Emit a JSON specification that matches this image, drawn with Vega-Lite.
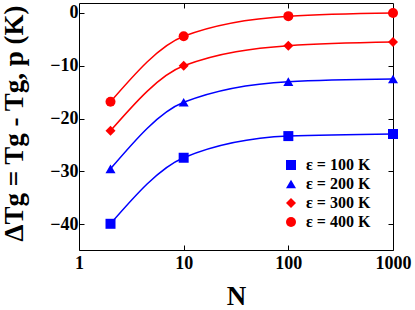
{
  "$schema": "https://vega.github.io/schema/vega-lite/v6.json",
  "width": 314,
  "height": 247,
  "autosize": {"type": "none"},
  "padding": {"left": 79, "top": 3, "right": 22, "bottom": 60},
  "background": "white",
  "config": {
    "view": {"stroke": "black", "strokeWidth": 1},
    "font": "Liberation Serif",
    "axis": {
      "labelFont": "Liberation Serif", "labelFontWeight": "bold", "labelFontSize": 18, "labelColor": "black",
      "titleFont": "Liberation Serif", "titleFontWeight": "bold", "titleFontSize": 27, "titleColor": "black",
      "grid": false, "domain": false, "tickColor": "black", "tickSize": -5, "tickWidth": 1, "labelFlush": false
    },
    "legend": {
      "labelFont": "Liberation Serif", "labelFontWeight": "bold", "labelFontSize": 16, "labelColor": "black"
    }
  },
  "data": {
    "values": [
      {"N": 2, "dT": -39.9, "eps": "ε = 100 K"},
      {"N": 10, "dT": -27.4, "eps": "ε = 100 K"},
      {"N": 100, "dT": -23.3, "eps": "ε = 100 K"},
      {"N": 1000, "dT": -22.9, "eps": "ε = 100 K"},
      {"N": 2, "dT": -29.5, "eps": "ε = 200 K"},
      {"N": 10, "dT": -16.9, "eps": "ε = 200 K"},
      {"N": 100, "dT": -13.0, "eps": "ε = 200 K"},
      {"N": 1000, "dT": -12.5, "eps": "ε = 200 K"},
      {"N": 2, "dT": -22.3, "eps": "ε = 300 K"},
      {"N": 10, "dT": -10.0, "eps": "ε = 300 K"},
      {"N": 100, "dT": -6.2, "eps": "ε = 300 K"},
      {"N": 1000, "dT": -5.5, "eps": "ε = 300 K"},
      {"N": 2, "dT": -16.8, "eps": "ε = 400 K"},
      {"N": 10, "dT": -4.4, "eps": "ε = 400 K"},
      {"N": 100, "dT": -0.6, "eps": "ε = 400 K"},
      {"N": 1000, "dT": 0.0, "eps": "ε = 400 K"}
    ]
  },
  "layer": [
    {
      "mark": {"type": "line", "interpolate": "monotone", "strokeWidth": 1.5},
      "encoding": {
        "x": {"field": "N", "type": "quantitative",
              "scale": {"type": "log", "domain": [1, 1000], "nice": false},
              "axis": {"values": [1, 10, 100, 1000], "format": "d", "title": "N", "labelPadding": 9, "titlePadding": 11}},
        "y": {"field": "dT", "type": "quantitative",
              "scale": {"domain": [-44.86, 1.89], "nice": false, "zero": false},
              "axis": {"values": [-40, -30, -20, -10, 0], "title": "ΔTg = Tg - Tg, p (K)", "labelPadding": 6, "titlePadding": 21, "titleY": 120}},
        "color": {"field": "eps", "type": "nominal", "legend": null,
                  "scale": {"domain": ["ε = 100 K", "ε = 200 K", "ε = 300 K", "ε = 400 K"], "range": ["#0000ff", "#0000ff", "#ff0000", "#ff0000"]}},
        "detail": {"field": "eps"}
      }
    },
    {
      "mark": {"type": "point", "filled": true, "size": 100, "opacity": 1},
      "encoding": {
        "x": {"field": "N", "type": "quantitative",
              "axis": {"orient": "top", "values": [10, 100], "labels": false, "title": null}},
        "y": {"field": "dT", "type": "quantitative",
              "axis": {"orient": "right", "values": [-40, -30, -20, -10, 0], "labels": false, "title": null}},
        "color": {"field": "eps", "type": "nominal",
                  "legend": {"title": null, "orient": "none", "legendX": 204, "legendY": 154, "rowPadding": 3, "symbolSize": 100, "labelOffset": 7}},
        "shape": {"field": "eps", "type": "nominal",
                  "scale": {"domain": ["ε = 100 K", "ε = 200 K", "ε = 300 K", "ε = 400 K"], "range": ["square", "triangle-up", "diamond", "circle"]}}
      }
    }
  ],
  "resolve": {"axis": {"x": "independent", "y": "independent"}, "legend": {"color": "independent", "shape": "independent"}}
}
